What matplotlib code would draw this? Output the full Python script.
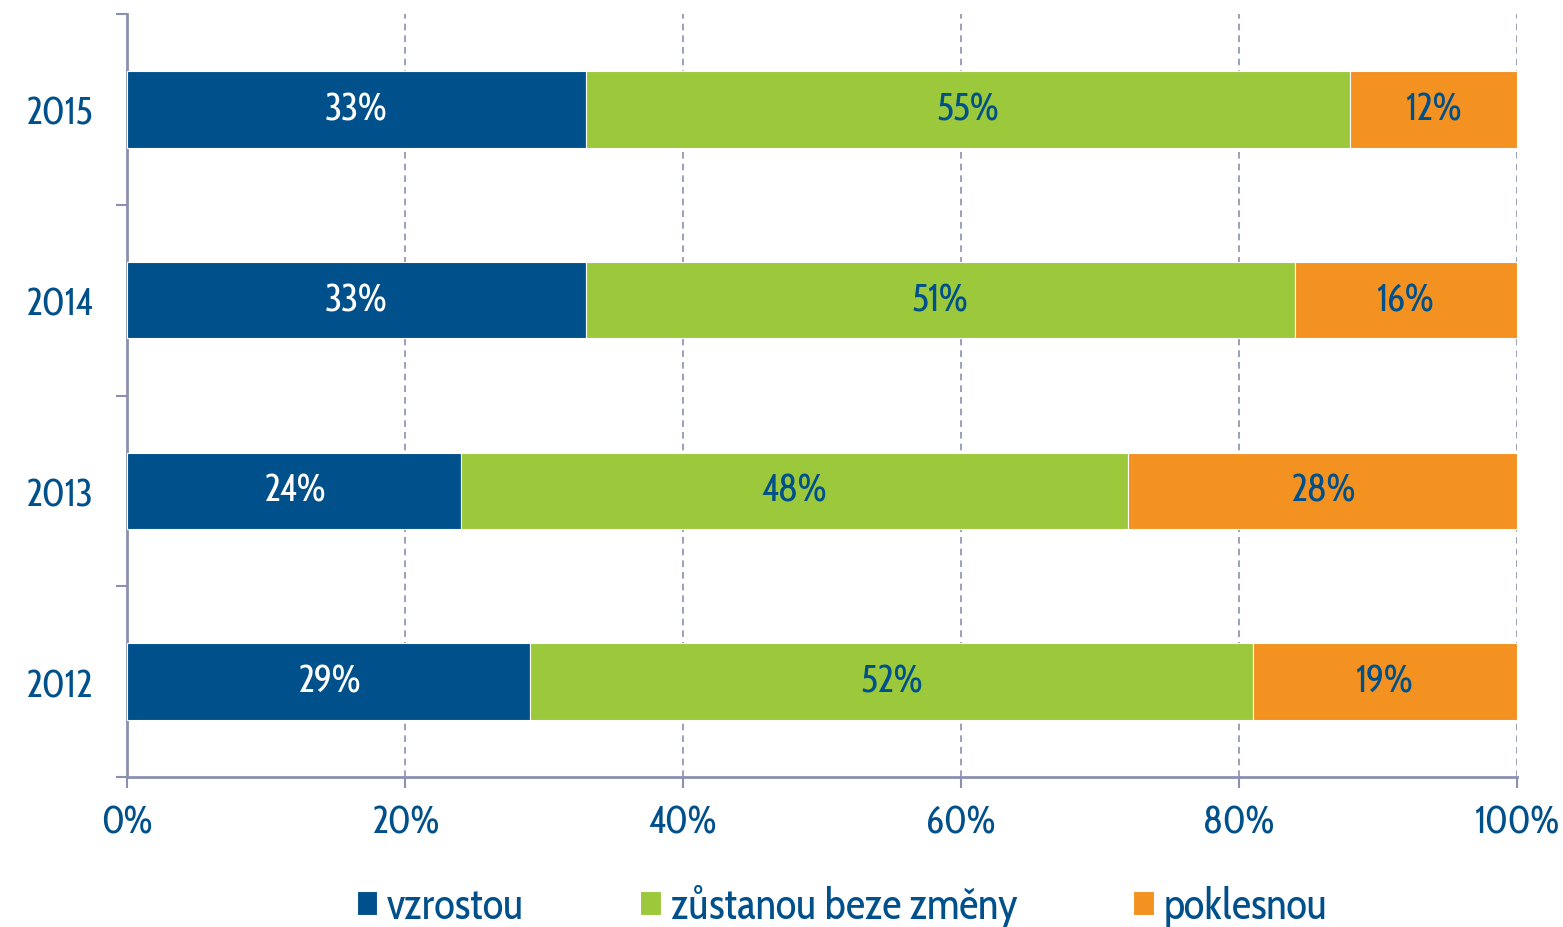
import matplotlib
matplotlib.use("Agg")
import matplotlib.pyplot as plt
import numpy as np
from matplotlib.ticker import FixedLocator, PercentFormatter

years = ["2012", "2013", "2014", "2015"]
vzrostou = [29, 24, 33, 33]
beze_zmeny = [52, 48, 51, 55]
poklesnou = [19, 28, 16, 12]
series_names = ["vzrostou", "zůstanou beze změny", "poklesnou"]
x_ticks = [0, 20, 40, 60, 80, 100]

colors = ["#00508B", "#9BC93B", "#F39220"]
label_colors = ["white", "#00508B", "#00508B"]
text_color = "#00508B"
axis_color = "#8C90B0"

plt.rcParams['font.family'] = ['Cabin Condensed', 'DejaVu Sans']
fs = 27
lfs = 31

fig = plt.figure(figsize=(15.63, 9.28), dpi=100)
ax = fig.add_axes([127/1563, 1-778/928, (1517-127)/1563, (778-15)/928])

ypos = np.arange(len(years))
left = np.zeros(len(years))
for vals, col, lcol, name in zip([vzrostou, beze_zmeny, poklesnou], colors, label_colors, series_names):
    vals = np.array(vals, dtype=float)
    ax.barh(ypos, vals, left=left, height=0.4, color=col, edgecolor="white",
            linewidth=0.8, label=name, zorder=3)
    for yi, (l, v) in enumerate(zip(left, vals)):
        ax.text(l + v/2, yi, f"{int(v)}%", ha="center", va="center",
                color=lcol, fontsize=fs, zorder=4)
    left += vals

ax.set_xlim(0, 100)
ax.set_ylim(-0.5, 3.5)
ax.set_xticks(x_ticks)
ax.xaxis.set_major_formatter(PercentFormatter(decimals=0))
ax.set_yticks(ypos)
ax.set_yticklabels(years)
ax.yaxis.set_minor_locator(FixedLocator(np.arange(-0.5, 4.0, 1.0)))

ax.tick_params(axis="y", which="major", length=0, pad=25, labelsize=fs, labelcolor=text_color)
ax.tick_params(axis="y", which="minor", length=8, width=1.5, color=axis_color, direction="out")
ax.tick_params(axis="x", which="major", length=8, width=1.5, color=axis_color, pad=11,
               labelsize=fs, labelcolor=text_color)

for s in ["top", "right"]:
    ax.spines[s].set_visible(False)
for s in ["left", "bottom"]:
    ax.spines[s].set_color(axis_color)
    ax.spines[s].set_linewidth(2)

for xv in x_ticks[1:]:
    ax.axvline(xv, color=axis_color, linestyle=(0, (4, 3)), linewidth=1.2, zorder=1)

fig.legend(loc="center", bbox_to_anchor=(842/1563, 20/928), ncol=3, frameon=False,
           fontsize=lfs, labelcolor=text_color, handlelength=0.48, handleheight=0.48,
           handletextpad=0.22, columnspacing=2.7)

fig.savefig("out.png", dpi=100)
